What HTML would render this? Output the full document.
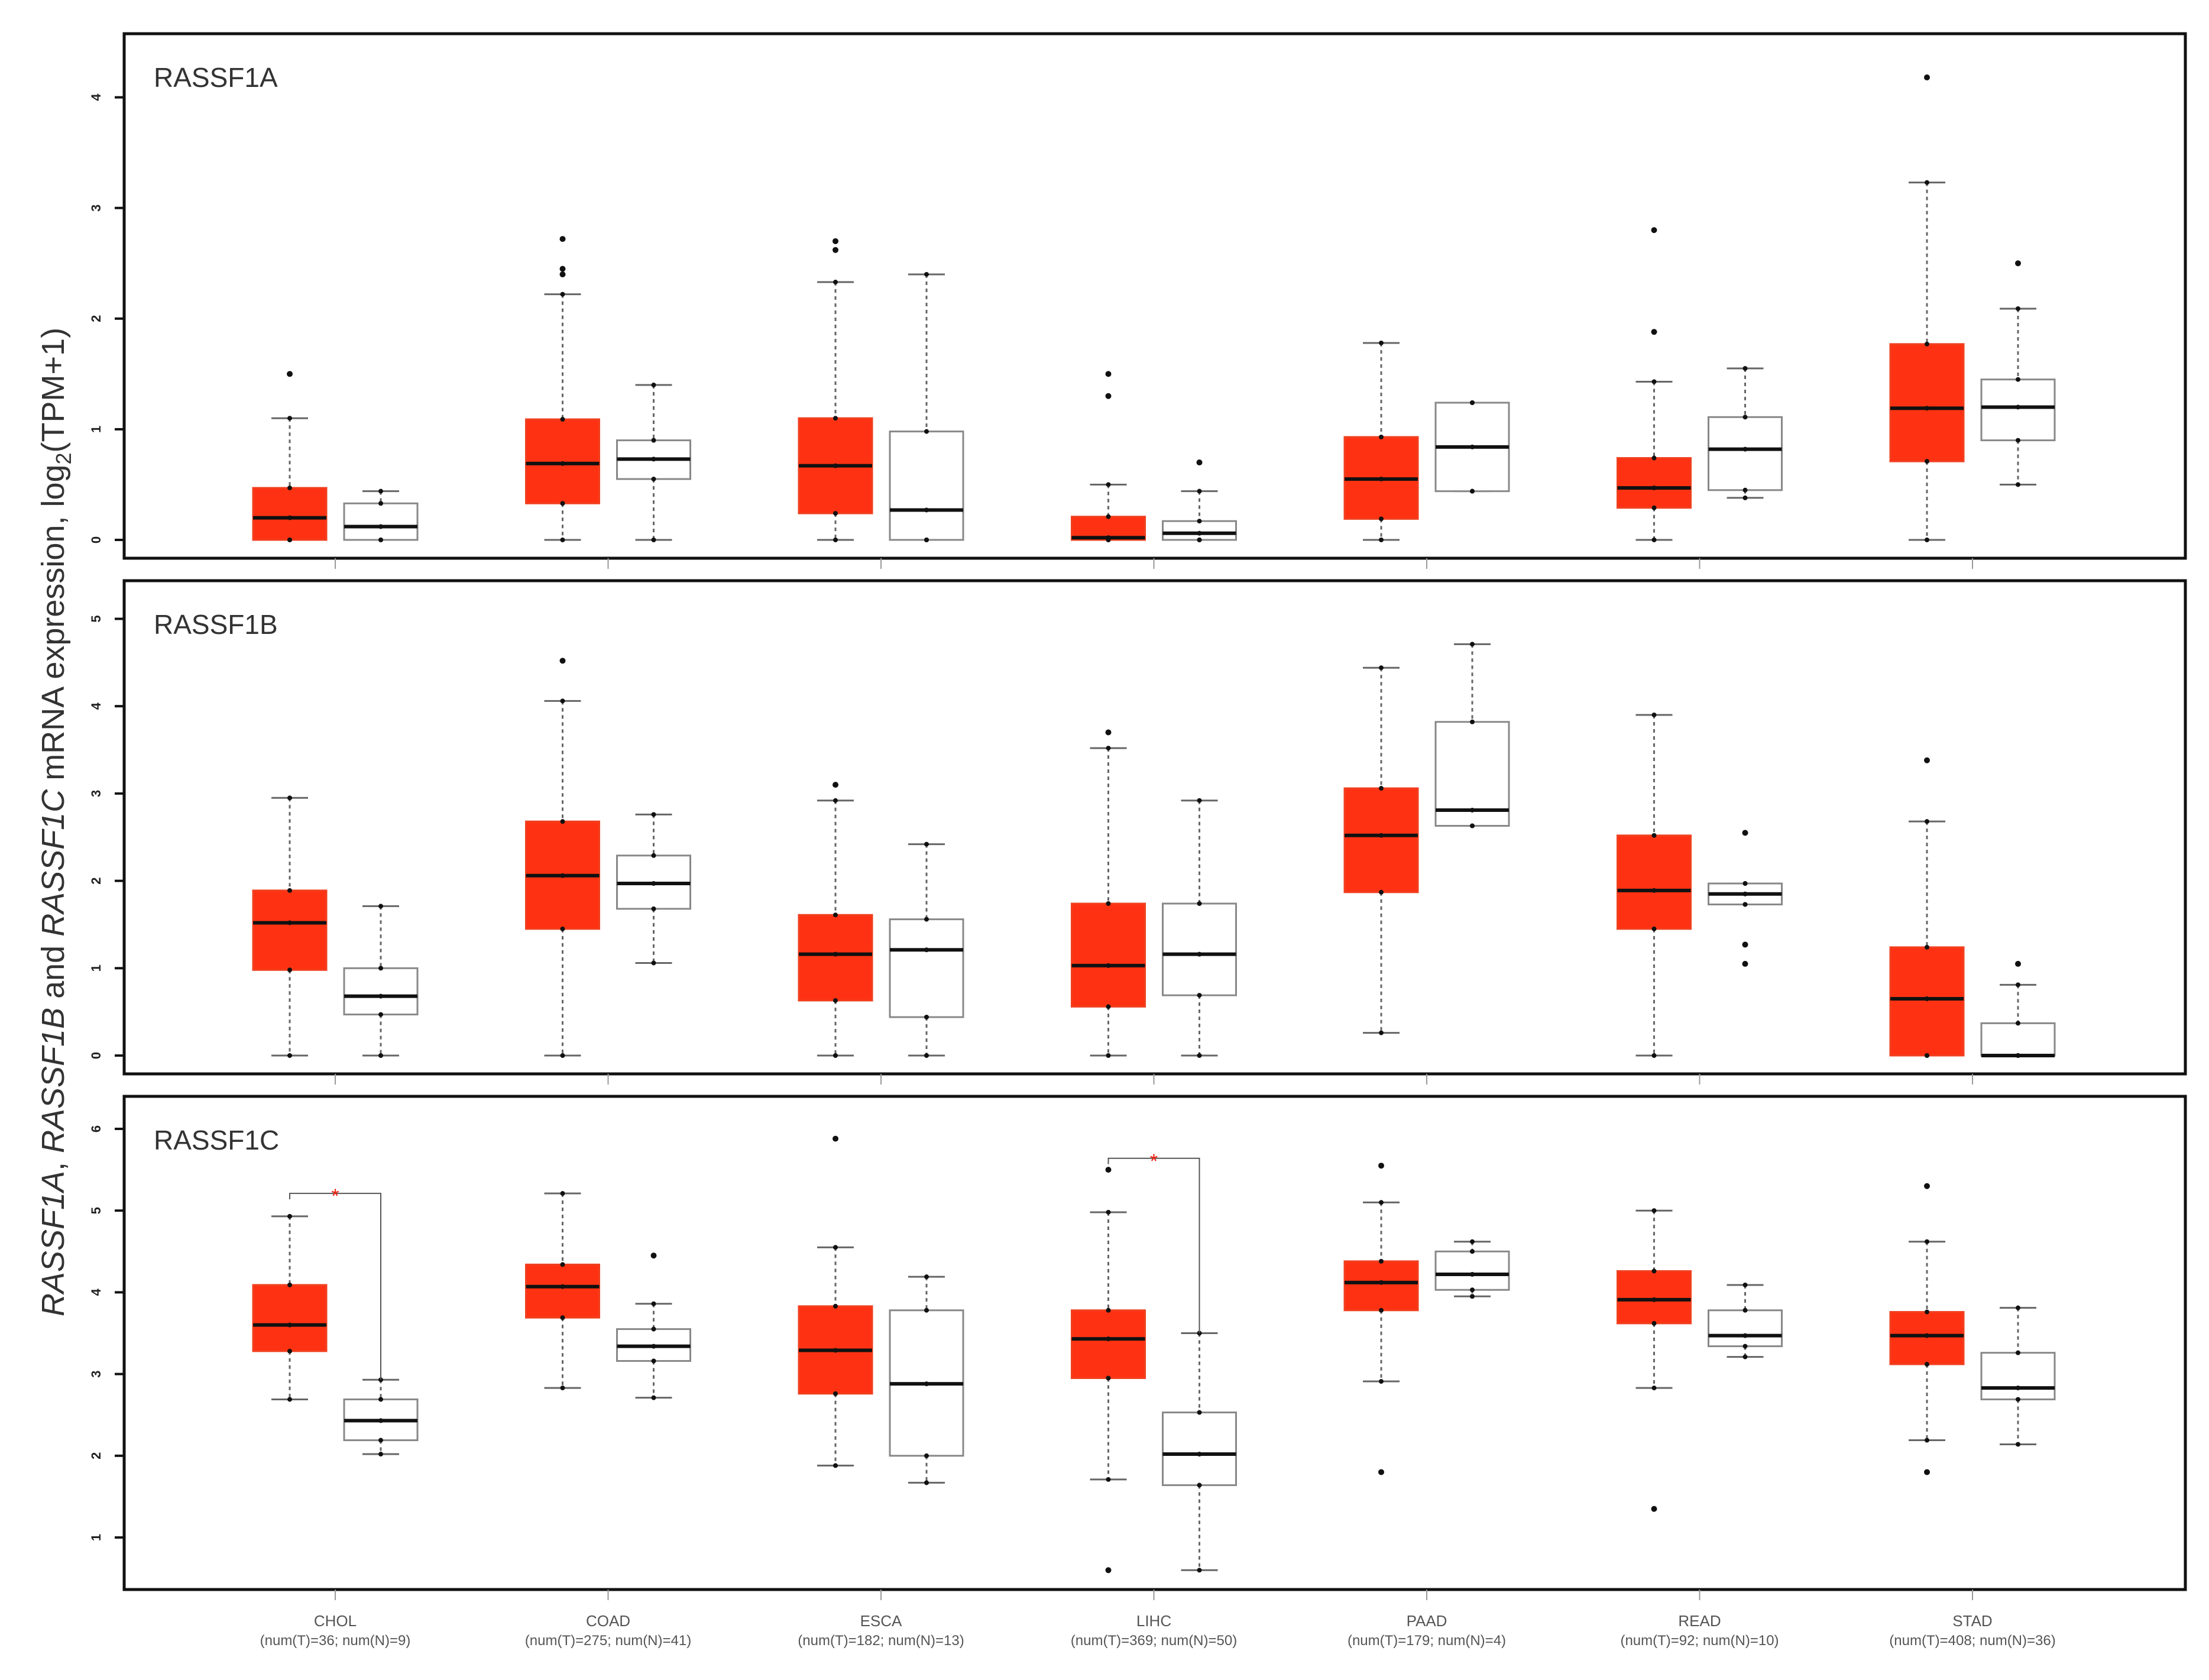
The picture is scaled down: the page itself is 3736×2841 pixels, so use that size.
<!DOCTYPE html>
<html><head><meta charset="utf-8"><style>
body{margin:0;background:#fff}
svg{display:block}
text{font-family:"Liberation Sans",sans-serif}
</style></head><body>
<svg id="chart" width="3736" height="2841" viewBox="0 0 3736 2841">
<text transform="translate(108,1390) rotate(-90)" text-anchor="middle" font-size="54" fill="#333"><tspan font-style="italic">RASSF1A</tspan>, <tspan font-style="italic">RASSF1B</tspan> and <tspan font-style="italic">RASSF1C</tspan> mRNA expression, log<tspan font-size="36" dy="12">2</tspan><tspan dy="-12">(TPM+1)</tspan></text>
<g id="plots"></g>
</svg>
<script>
const categories=["CHOL","COAD","ESCA","LIHC","PAAD","READ","STAD"];
const sampleLabels=["(num(T)=36; num(N)=9)","(num(T)=275; num(N)=41)","(num(T)=182; num(N)=13)","(num(T)=369; num(N)=50)","(num(T)=179; num(N)=4)","(num(T)=92; num(N)=10)","(num(T)=408; num(N)=36)"];
const panelNames=["RASSF1A","RASSF1B","RASSF1C"];
const ticks1=[0,1,2,3,4];
const ticks2=[0,1,2,3,4,5];
const ticks3=[1,2,3,4,5,6];
// [whiskerLow, q1, median, q3, whiskerHigh]
const tumorA=[[0,0,0.2,0.47,1.1],[0,0.33,0.69,1.09,2.22],[0,0.24,0.67,1.1,2.33],[0,0,0.02,0.21,0.5],[0,0.19,0.55,0.93,1.78],[0,0.29,0.47,0.74,1.43],[0,0.71,1.19,1.77,3.23]];
const normalA=[[0,0,0.12,0.33,0.44],[0,0.55,0.73,0.9,1.4],[0,0,0.27,0.98,2.4],[0,0,0.06,0.17,0.44],[0.44,0.44,0.84,1.24,1.24],[0.38,0.45,0.82,1.11,1.55],[0.5,0.9,1.2,1.45,2.09]];
const tumorB=[[0,0.98,1.52,1.89,2.95],[0,1.45,2.06,2.68,4.06],[0,0.63,1.16,1.61,2.92],[0,0.56,1.03,1.74,3.52],[0.26,1.87,2.52,3.06,4.44],[0,1.45,1.89,2.52,3.9],[0,0,0.65,1.24,2.68]];
const normalB=[[0,0.47,0.68,1.0,1.71],[1.06,1.68,1.97,2.29,2.76],[0,0.44,1.21,1.56,2.42],[0,0.69,1.16,1.74,2.92],[2.63,2.63,2.81,3.82,4.71],[1.73,1.73,1.85,1.97,1.97],[0,0,0,0.37,0.81]];
const tumorC=[[2.69,3.28,3.6,4.09,4.93],[2.83,3.69,4.07,4.34,5.21],[1.88,2.76,3.29,3.83,4.55],[1.71,2.95,3.43,3.78,4.98],[2.91,3.78,4.12,4.38,5.1],[2.83,3.62,3.91,4.26,5.0],[2.19,3.12,3.47,3.76,4.62]];
const normalC=[[2.02,2.19,2.43,2.69,2.93],[2.71,3.16,3.34,3.55,3.86],[1.67,2.0,2.88,3.78,4.19],[0.6,1.64,2.02,2.53,3.5],[3.95,4.03,4.22,4.5,4.62],[3.21,3.34,3.47,3.78,4.09],[2.14,2.69,2.83,3.26,3.81]];
const outTA=[[1.5],[2.72,2.45,2.4],[2.7,2.62],[1.5,1.3],[],[2.8,1.88],[4.18]];
const outNA=[[],[],[],[0.7],[],[],[2.5]];
const outTB=[[],[4.52],[3.1],[3.7],[],[],[3.38]];
const outNB=[[],[],[],[],[],[2.55,1.27,1.05],[1.05]];
const outTC=[[],[],[5.88],[5.5,0.6],[5.55,1.8],[1.35],[5.3,1.8]];
const outNC=[[],[4.45],[],[],[],[],[]];
const sigCats=[0,3];
const sigLevels=[5.21,5.64];

const NS="http://www.w3.org/2000/svg";
const root=document.getElementById("plots");
function mk(tag,attrs,parent){const e=document.createElementNS(NS,tag);for(const k in attrs)e.setAttribute(k,attrs[k]);(parent||root).appendChild(e);return e;}
const X0=210,X1=3696;
const catX=i=>567+i*461.5;
const panels=[
 {top:57,bot:944,y:v=>913-v*187.1,ticks:ticks1,T:tumorA,N:normalA,oT:outTA,oN:outNA},
 {top:982,bot:1816,y:v=>1785-v*147.7,ticks:ticks2,T:tumorB,N:normalB,oT:outTB,oN:outNB},
 {top:1854,bot:2688,y:v=>2600-(v-1)*138.2,ticks:ticks3,T:tumorC,N:normalC,oT:outTC,oN:outNC}
];
const BW=124,OFF=77;
function drawBox(g,cx,d,y,tumor,outs){
 const [wl,q1,md,q3,wh]=d;
 const w=mk("line",{x1:cx,x2:cx,y1:y(wh),y2:y(q3),stroke:"#666","stroke-width":3,"stroke-dasharray":"6,6"},g);
 
 
 const w2=mk("line",{x1:cx,x2:cx,y1:y(q1),y2:y(wl),stroke:"#666","stroke-width":3,"stroke-dasharray":"6,6"},g);
 
 
 for(const v of [wl,wh]){const c=mk("line",{x1:cx-31,x2:cx+31,y1:y(v),y2:y(v),stroke:"#666","stroke-width":3},g);
  
  }
 const r=mk("rect",{x:cx-BW/2,y:y(q3),width:BW,height:Math.max(2,y(q1)-y(q3)),fill:tumor?"#fe3212":"#fff",stroke:tumor?"#f04020":"#888","stroke-width":3},g);
 
 
 const m=mk("line",{x1:cx-BW/2,x2:cx+BW/2,y1:y(md),y2:y(md),stroke:"#111","stroke-width":6},g);
 
 
 for(const v of [wl,q1,md,q3,wh]){const p=mk("circle",{cx:cx,cy:y(v),r:4,fill:"#111"},g);
  
  }
 for(const v of outs){const p=mk("circle",{cx:cx,cy:y(v),r:5,fill:"#111"},g);
  
  }
}
panels.forEach((P,pi)=>{
 const g=mk("g",{});
 
 
 const f=mk("rect",{x:X0,y:P.top,width:X1-X0,height:P.bot-P.top,fill:"none",stroke:"#111","stroke-width":5},g);
 
 
 const t=mk("text",{x:260,y:P.top+90,"font-size":46,fill:"#333"},g);
 t.textContent=panelNames[pi];
 
 
 P.ticks.forEach(v=>{
  const l=mk("line",{x1:X0-16,x2:X0,y1:P.y(v),y2:P.y(v),stroke:"#111","stroke-width":4},g);
  
  
  const tx=mk("text",{transform:`translate(${X0-40},${P.y(v)}) rotate(-90)`,"text-anchor":"middle","font-size":22,"font-weight":"bold",fill:"#222"},g);
  tx.textContent=v;
  
  
 });
 categories.forEach((c,i)=>{
  const cx=catX(i);
  const xt=mk("line",{x1:cx,x2:cx,y1:P.bot,y2:P.bot+18,stroke:"#999","stroke-width":2},g);
  
  
  drawBox(g,cx-OFF,P.T[i],P.y,true,P.oT[i]);
  drawBox(g,cx+OFF,P.N[i],P.y,false,P.oN[i]);
 });
 if(pi===2){
  sigCats.forEach((ci,k)=>{
   const cx=catX(ci),yy=P.y(sigLevels[k]);
   const b=mk("path",{d:`M${cx-OFF},${yy+10}V${yy}H${cx+OFF}V${P.y(P.N[ci][4])}`,fill:"none",stroke:"#555","stroke-width":2},g);
   
   
   const s=mk("text",{x:cx,y:yy+16,"text-anchor":"middle","font-size":34,fill:"#f02010"},g);
   s.textContent="*";
   
   
  });
  categories.forEach((c,i)=>{
   const a=mk("text",{x:catX(i),y:2750,"text-anchor":"middle","font-size":26,fill:"#555"},g);
   a.textContent=c;
   
   
   const b=mk("text",{x:catX(i),y:2782,"text-anchor":"middle","font-size":24,fill:"#555"},g);
   b.textContent=sampleLabels[i];
   
   
  });
 }
});
</script>
</body></html>
